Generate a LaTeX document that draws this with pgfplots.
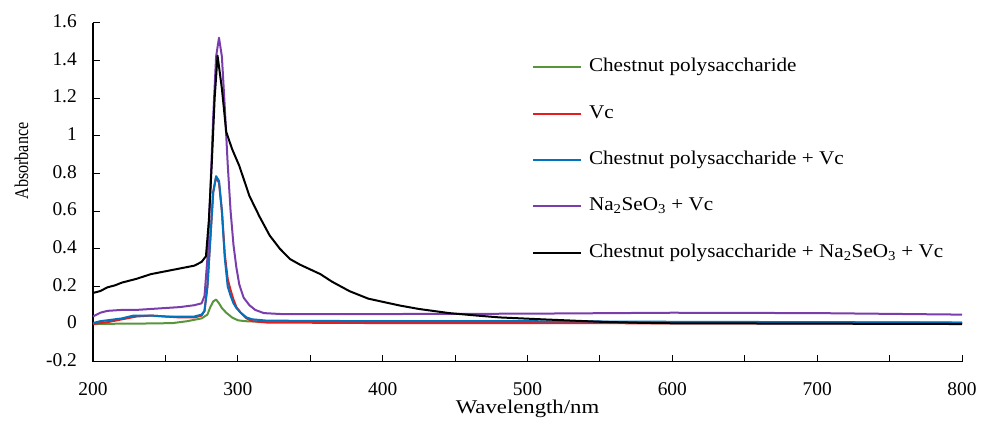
\documentclass[border=0pt]{standalone}
\usepackage{fontspec}
\setmainfont{Liberation Serif}
\newfontfamily\tfont{Liberation Serif}[FakeStretch=1.0]
\newfontfamily\lfont{Liberation Serif}[FakeStretch=1.09]
\newfontfamily\xfont{Liberation Serif}[FakeStretch=1.17]
\newfontfamily\yfont{Liberation Serif}[FakeStretch=0.83]
\usepackage{pgfplots}
\pgfplotsset{compat=1.18}
\definecolor{cgreen}{RGB}{88,150,60}
\definecolor{cred}{RGB}{232,28,28}
\definecolor{cblue}{RGB}{0,114,190}
\definecolor{cpurple}{RGB}{122,62,172}
\begin{document}
\begin{tikzpicture}
\useasboundingbox (-93bp,-64.3bp) rectangle (889bp,361.7bp);
\begin{axis}[
  at={(0,0)}, anchor=south west,
  scale only axis, width=869bp, height=339bp,
  xmin=200, xmax=800, ymin=-0.2, ymax=1.6,
  axis x line=bottom, axis y line=left,
  axis line style={-, line width=1.1bp, black},
  xtick={200,300,400,500,600,700,800},
  minor xtick={250,350,450,550,650,750},
  xticklabels={200,300,400,500,600,700,800},
  ytick={-0.2,0,0.2,0.4,0.6,0.8,1,1.2,1.4,1.6},
  yticklabels={-0.2,0,0.2,0.4,0.6,0.8,1,1.2,1.4,1.6},
  tick align=inside, major tick length=7bp, minor tick length=7bp,
  tick style={black, line width=1bp},
  /pgf/number format/assume math mode=true,
  ticklabel style={font=\tfont\fontsize{19.5}{22}\selectfont},
  xticklabel style={inner sep=0pt, anchor=north, yshift=-21bp},
  yticklabel style={inner sep=0pt, anchor=east, xshift=-16bp, yshift=1.5bp},
  xlabel={Wavelength/nm},
  xlabel style={at={(axis description cs:0.5,0)}, anchor=north, yshift=-38.5bp, inner sep=0pt, font=\xfont\fontsize{19.5}{23}\selectfont},
  ylabel={Absorbance},
  ylabel style={at={(axis description cs:-0.0823,0.592)}, anchor=center, inner sep=0pt, font=\yfont\fontsize{19.5}{22}\selectfont},
  legend style={at={(axis description cs:0.5052,0.8968)}, anchor=north west, draw=none, fill=none, inner sep=0pt, outer sep=0pt, row sep=27.4bp, font=\lfont\fontsize{19.5}{22}\selectfont, nodes={inner sep=0pt, text height=14bp, text depth=5bp}},
  legend cell align=left,
  legend image code/.code={\draw[#1, line width=2bp] (0bp,0bp) -- (48bp,0bp); \path (55bp,0bp);},
  every axis plot/.append style={line width=2bp, line join=round},
]
% Chestnut polysaccharide
\addplot[cgreen, mark=none] coordinates {
(200,0.0) (220,0.002) (240,0.003) (255,0.005) (265,0.015) (275,0.03) (279,0.05)
(281,0.09) (283,0.12) (285,0.13) (287,0.11) (289,0.085) (292,0.06) (296,0.035)
(300,0.02) (305,0.015) (320,0.012) (400,0.01) (600,0.009) (800,0.008)};
\addlegendentry{Chestnut polysaccharide}
% Vc
\addplot[cred, mark=none] coordinates {
(200,0.0) (210,0.01) (220,0.025) (230,0.04) (240,0.045) (250,0.04) (260,0.035)
(270,0.035) (275,0.045) (277,0.07) (279,0.2) (281,0.45) (283,0.7) (285,0.78)
(287,0.75) (289,0.6) (291,0.37) (293,0.24) (295,0.18) (297,0.13) (299,0.09)
(302,0.06) (306,0.03) (310,0.015) (320,0.008) (400,0.005) (600,0.004) (800,0.003)};
\addlegendentry{Vc}
% Chestnut polysaccharide + Vc
\addplot[cblue, mark=none] coordinates {
(200,0.005) (205,0.015) (210,0.02) (220,0.03) (228,0.045) (240,0.045) (250,0.04)
(260,0.04) (270,0.04) (275,0.05) (277,0.07) (279,0.2) (281,0.45) (283,0.7)
(285,0.785) (287,0.76) (289,0.6) (291,0.35) (293,0.2) (295,0.15) (297,0.11)
(299,0.085) (302,0.06) (306,0.035) (310,0.025) (320,0.018) (400,0.015) (500,0.015)
(600,0.012) (700,0.01) (800,0.008)};
\addlegendentry{Chestnut polysaccharide + Vc}
% Na2SeO3 + Vc
\addplot[cpurple, mark=none] coordinates {
(200,0.04) (205,0.06) (210,0.07) (220,0.075) (230,0.075) (240,0.08) (250,0.085)
(260,0.09) (270,0.1) (275,0.11) (277,0.15) (279,0.35) (281,0.7) (283,1.1)
(285,1.42) (287,1.52) (289,1.42) (291,1.15) (293,0.85) (295,0.6) (297,0.42)
(299,0.3) (301,0.21) (304,0.14) (308,0.1) (312,0.075) (318,0.058) (330,0.053)
(400,0.053) (500,0.055) (600,0.06) (700,0.058) (800,0.05)};
\addlegendentry{Na\textsubscript{2}SeO\textsubscript{3} + Vc}
% Chestnut polysaccharide + Na2SeO3 + Vc
\addplot[black, mark=none] coordinates {
(200,0.165) (205,0.175) (210,0.195) (215,0.205) (220,0.22) (230,0.24) (240,0.265)
(250,0.28) (260,0.295) (270,0.31) (275,0.33) (278,0.36) (280,0.55) (282,0.85)
(284,1.2) (286,1.425) (289,1.25) (292,1.02) (296,0.93) (301,0.84) (308,0.68)
(315,0.57) (322,0.47) (329,0.40) (336,0.345) (343,0.315) (350,0.29) (357,0.265)
(365,0.225) (377,0.175) (390,0.135) (400,0.118) (412,0.098) (425,0.08) (446,0.058)
(465,0.045) (481,0.035) (510,0.025) (550,0.012) (580,0.006) (600,0.004) (700,0.002)
(800,0.0)};
\addlegendentry{Chestnut polysaccharide + Na\textsubscript{2}SeO\textsubscript{3} + Vc}
\end{axis}
\end{tikzpicture}
\end{document}
